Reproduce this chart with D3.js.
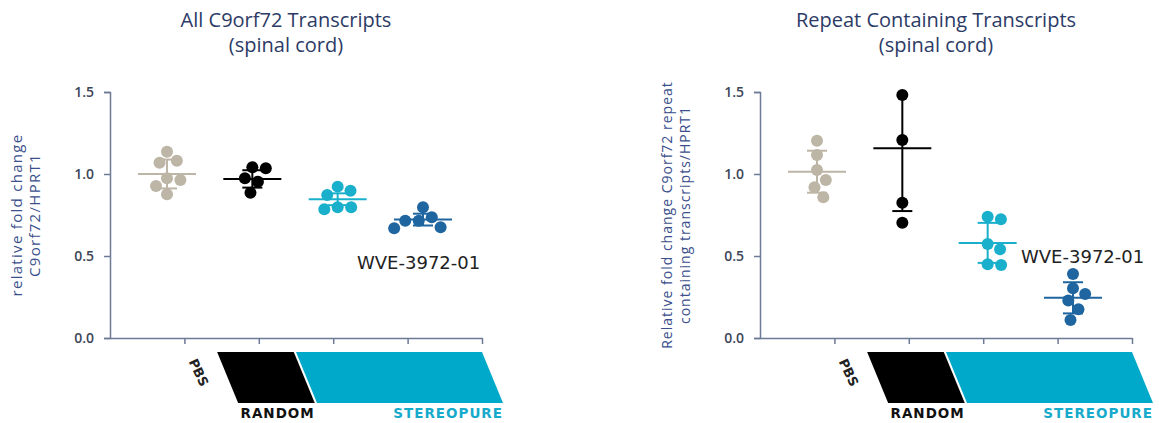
<!DOCTYPE html>
<html>
<head>
<meta charset="utf-8">
<script src="https://cdn.jsdelivr.net/npm/d3@7"></script>
<style>
  body { margin: 0; background: #fff; }
  svg { display: block; }
</style>
</head>
<body>
<svg id="chart"></svg>
<script>
const width = 1159;
const height = 423;

// groups in plotting order
const groups = ['PBS', 'Random', 'WVE-3972-01 A', 'WVE-3972-01 B'];
const groupColours = ['#bdb5a5', '#000000', '#1ab0cc', '#1f66a0'];

// all C9orf72 transcripts
const allValues = [
  [1.136, 1.081, 1.069, 0.974, 0.963, 0.927, 0.876],
  [1.041, 1.035, 0.974, 0.953, 0.886],
  [0.923, 0.898, 0.872, 0.797, 0.797, 0.785],
  [0.797, 0.736, 0.715, 0.715, 0.675, 0.669]
];
const allMean = [1.0, 0.97, 0.846, 0.722];
const allSd = [0.088, 0.053, 0.036, 0.036];

// repeat containing transcripts
const repValues = [
  [1.203, 1.116, 1.024, 0.963, 0.919, 0.858],
  [1.482, 1.207, 0.825, 0.703],
  [0.740, 0.724, 0.573, 0.541, 0.449, 0.445],
  [0.390, 0.303, 0.268, 0.228, 0.175, 0.110]
];
const repMean = [1.014, 1.157, 0.58, 0.245];
const repSd = [0.128, 0.383, 0.122, 0.095];

const yTicks = [0, 0.5, 1.0, 1.5];

const panels = [
  {x: 110, title: ['All C9orf72 Transcripts', '(spinal cord)'],
   ylabel: ['relative fold change', 'C9orf72/HPRT1'], ylabelSize: 15, ylabelSpacing: 1.3,
   values: allValues, mean: allMean, sd: allSd, label: 'WVE-3972-01', labelPos: [247, 0.42]},
  {x: 760, title: ['Repeat Containing Transcripts', '(spinal cord)'],
   ylabel: ['Relative fold change C9orf72 repeat', 'containing transcripts/HPRT1'], ylabelSize: 14, ylabelSpacing: 1,
   values: repValues, mean: repMean, sd: repSd, label: 'WVE-3972-01', labelPos: [261, 0.46]}
];

const axisW = 372;
const r = 6;
const gap = 13;   // centre spacing used by the swarm
const textCol = '#2c3b66';
const axisCol = '#6d7a96';

const svg = d3.select('#chart')
    .attr('width', width)
    .attr('height', height);

const y = d3.scaleLinear()
    .domain([0, 1.5])
    .range([338, 92]);
const xGroup = d3.scalePoint()
    .domain(groups)
    .range([57, 313]);
const xTick = d3.scaleLinear()
    .domain([0, 5])
    .range([0, axisW]);

svg.append('clipPath').attr('id', 'plotclip')
  .append('rect')
    .attr('x', 0).attr('y', y(1.5)).attr('width', axisW).attr('height', y(0) - y(1.5) + 5);

// simple beeswarm: place each point at the smallest offset that does not overlap
const swarm = vals => {
  const placed = [];
  const sorted = vals.map((v, i) => ({v, i})).sort((a, b) => b.v - a.v);
  sorted.forEach(p => {
    const py = y(p.v);
    const cands = [0];
    placed.forEach(q => {
      const dy = Math.abs(q.y - py);
      if (dy < gap) {
        const dx = Math.sqrt(gap * gap - dy * dy) + 0.5;
        cands.push(q.x + dx, q.x - dx);
      }
    });
    cands.sort((a, b) => Math.abs(a) - Math.abs(b));
    const ok = c => placed.every(q => Math.hypot(q.x - c, q.y - py) >= gap - 0.01);
    const cx = cands.find(ok);
    placed.push({x: cx, y: py, v: p.v});
  });
  return placed;
};

panels.forEach(p => {
  const g = svg.append('g').attr('transform', `translate(${p.x},0)`);

  // titles
  g.selectAll('.title')
    .data(p.title)
    .enter().append('text')
      .attr('x', axisW / 2 - 10)
      .attr('y', (d, i) => 27 + i * 25)
      .attr('text-anchor', 'middle')
      .attr('font-family', 'Open Sans, sans-serif')
      .attr('font-size', 20)
      .attr('fill', textCol)
      .text(d => d);

  // y label
  g.selectAll('.ylab')
    .data(p.ylabel)
    .enter().append('text')
      .attr('transform', (d, i) => `translate(${-88 + i * 18},${y(0.75)}) rotate(-90)`)
      .attr('text-anchor', 'middle')
      .attr('font-family', 'Open Sans, sans-serif')
      .attr('font-size', p.ylabelSize)
      .attr('letter-spacing', p.ylabelSpacing)
      .attr('fill', '#3b4f8c')
      .text(d => d);

  // y axis
  const ya = g.append('g')
      .call(d3.axisLeft(y).tickValues(yTicks).tickFormat(d3.format('.1f')).tickSize(6).tickPadding(10));
  ya.select('.domain').attr('stroke', axisCol).attr('stroke-width', 1.5);
  ya.selectAll('.tick line').attr('stroke', axisCol).attr('stroke-width', 1.5);
  ya.selectAll('.tick text')
      .attr('font-family', 'Open Sans, sans-serif')
      .attr('font-size', 14)
      .attr('font-weight', 600)
      .attr('fill', '#3d4658');

  // x axis
  const xa = g.append('g')
      .attr('transform', `translate(0,${y(0)})`)
      .call(d3.axisBottom(xTick).tickValues([1, 2, 3, 4, 5]).tickFormat('').tickSize(6).tickSizeOuter(0));
  xa.select('.domain').attr('stroke', axisCol).attr('stroke-width', 1.5);
  xa.selectAll('.tick line').attr('stroke', axisCol).attr('stroke-width', 1.5);

  // points
  p.values.forEach((vals, gi) => {
    const cx = xGroup(groups[gi]);
    g.selectAll(null)
      .data(swarm(vals))
      .enter().append('circle')
        .attr('cx', d => cx + d.x)
        .attr('cy', d => d.y)
        .attr('r', r)
        .attr('fill', groupColours[gi]);
  });

  // mean +/- SD
  const eb = g.append('g').attr('clip-path', 'url(#plotclip)');
  groups.forEach((grp, gi) => {
    const cx = xGroup(grp);
    const col = groupColours[gi];
    const m = p.mean[gi], s = p.sd[gi];
    eb.append('line')
        .attr('x1', cx).attr('x2', cx)
        .attr('y1', y(m + s)).attr('y2', y(m - s))
        .attr('stroke', col).attr('stroke-width', 2);
    eb.append('line')
        .attr('x1', cx - 29).attr('x2', cx + 29)
        .attr('y1', y(m)).attr('y2', y(m))
        .attr('stroke', col).attr('stroke-width', 2);
    [m + s, m - s].forEach(v => {
      eb.append('line')
          .attr('x1', cx - 10).attr('x2', cx + 10)
          .attr('y1', y(v)).attr('y2', y(v))
          .attr('stroke', col).attr('stroke-width', 2);
    });
  });

  // compound label
  g.append('text')
      .attr('x', p.labelPos[0])
      .attr('y', y(p.labelPos[1]))
      .attr('font-family', 'DejaVu Sans, sans-serif')
      .attr('font-size', 18)
      .attr('fill', '#222')
      .text(p.label);

  // treatment bands under the axis
  const top = 352, bot = 403, slant = 21;
  const bands = [
    {from: 1.44, to: 2.47, fill: '#000000', text: 'RANDOM', col: '#111'},
    {from: 2.5, to: 5.0, fill: '#00a9c9', text: 'STEREOPURE', col: '#17aacb'}
  ];
  bands.forEach(b => {
    const x0 = xTick(b.from), x1 = xTick(b.to);
    g.append('path')
        .attr('d', `M${x0},${top}L${x1},${top}L${x1 + slant},${bot}L${x0 + slant},${bot}Z`)
        .attr('fill', b.fill);
    g.append('text')
        .attr('x', x1 + slant)
        .attr('y', 418)
        .attr('text-anchor', 'end')
        .attr('font-family', 'DejaVu Sans, sans-serif')
        .attr('font-size', 13.5)
        .attr('font-weight', 'bold')
        .attr('letter-spacing', 1)
        .attr('fill', b.col)
        .text(b.text);
  });
  g.append('text')
      .attr('transform', `translate(${xTick(1.18)},${373}) rotate(65)`)
      .attr('text-anchor', 'middle')
      .attr('dominant-baseline', 'middle')
      .attr('font-family', 'DejaVu Sans, sans-serif')
      .attr('font-size', 13)
      .attr('font-weight', 'bold')
      .attr('fill', '#222')
      .text('PBS');
});
</script>
</body>
</html>
